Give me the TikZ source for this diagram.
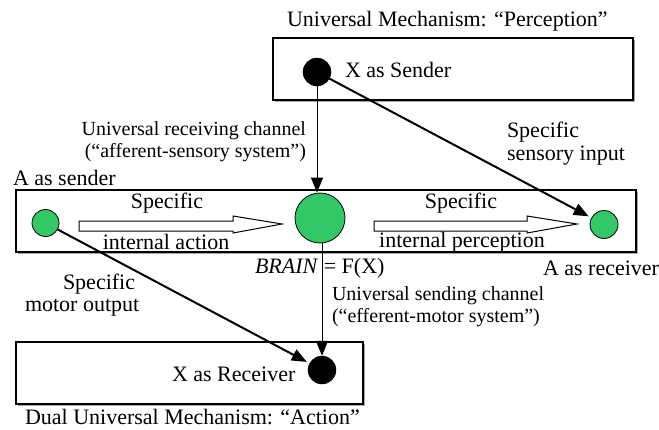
\documentclass[tikz,border=0pt]{standalone}
\usepackage{fontspec}
\setmainfont{Liberation Serif}
\usetikzlibrary{arrows.meta}
\definecolor{dotgreen}{RGB}{51,200,102}
\tikzset{
  lbl/.style={inner sep=0pt, outer sep=0pt, font=\fontsize{22}{24}\selectfont},
  slbl/.style={inner sep=0pt, outer sep=0pt, font=\fontsize{20}{22}\selectfont},
  gdot/.style={circle, draw=black, line width=0.8pt, fill=dotgreen, inner sep=0pt},
  bdot/.style={circle, fill=black, draw=black, inner sep=0pt, minimum size=28pt},
  panel/.style={draw=black, line width=1.2pt, fill=white},
  shadowbox/.style={fill=black!35},
  tip/.style={-{Triangle[length=15pt,width=12pt]}},
  thinline/.style={line width=1pt, tip},
  thickline/.style={line width=2pt, tip},
  hollow/.style={draw=black, line width=1pt, fill=white}
}
\begin{document}
\begin{tikzpicture}[x=1pt,y=-1pt]
\useasboundingbox (0,0) rectangle (659,429);
% panels with shadows
\fill[shadowbox] (275,40) rectangle (635,102);
\draw[panel] (273,38) rectangle (633,100);
\fill[shadowbox] (18,192) rectangle (638,254);
\draw[panel] (16,190) rectangle (636,252);
\fill[shadowbox] (18,344) rectangle (365,406);
\draw[panel] (16,342) rectangle (363,404);

% hollow arrows
\draw[hollow] (79,221) -- (233,221) -- (233,216) -- (282,224) -- (233,233) -- (233,231) -- (79,231) -- cycle;
\draw[hollow] (374,221) -- (527,221) -- (527,216) -- (577,224) -- (527,233) -- (527,231) -- (374,231) -- cycle;

% dots
\node[bdot] (xs) at (317,72) {};
\node[bdot] (xr) at (322,370) {};
\node[gdot, minimum size=27pt] (as) at (45.5,223) {};
\node[gdot, minimum size=50pt] (brain) at (320,218) {};
\node[gdot, minimum size=28pt] (ar) at (604,224.5) {};

% connectors
\draw[thinline] (xs) -- (xs |- brain.north);
\draw[thinline] (brain.south -| xr) -- (xr.north);
\draw[thickline, shorten >=3pt] (xs) -- (ar);
\draw[thickline, shorten >=3pt] (as) -- (xr);

% texts
\node[lbl, anchor=west] (t1) at (287,21) {Universal Mechanism: “Perception”};
\node[lbl, anchor=west] (t2) at (345,70) {X as Sender};
\node[slbl, anchor=east] (t3) at (306,131) {Universal receiving channel};
\node[slbl, anchor=east] (t4) at (306,153) {(“afferent-sensory system”)};
\node[lbl, anchor=west] (t5) at (13,178) {A as sender};
\node[lbl, anchor=west] (t6) at (507,132) {Specific};
\node[lbl, anchor=west] (t7) at (507,156) {sensory input};
\node[lbl] (t8) at (167,203) {Specific};
\node[lbl] (t9) at (166,242) {internal action};
\node[lbl] (t10) at (461,203) {Specific};
\node[lbl] (t11) at (462,242) {internal perception};
\node[lbl, anchor=west] (t12) at (255,268) {\textit{BRAIN} = F(X)};
\node[lbl, anchor=west] (t13) at (543,268) {A as receiver};
\node[slbl, anchor=west] (t14) at (332,296) {Universal sending channel};
\node[slbl, anchor=west] (t15) at (332,318) {(“efferent-motor system”)};
\node[lbl, anchor=west] (t16) at (63,284) {Specific};
\node[lbl, anchor=west] (t17) at (25,308) {motor output};
\node[lbl, anchor=west] (t18) at (172,374) {X as Receiver};
\node[lbl, anchor=west] (t19) at (25,417) {Dual Universal Mechanism: “Action”};
\end{tikzpicture}
\end{document}
